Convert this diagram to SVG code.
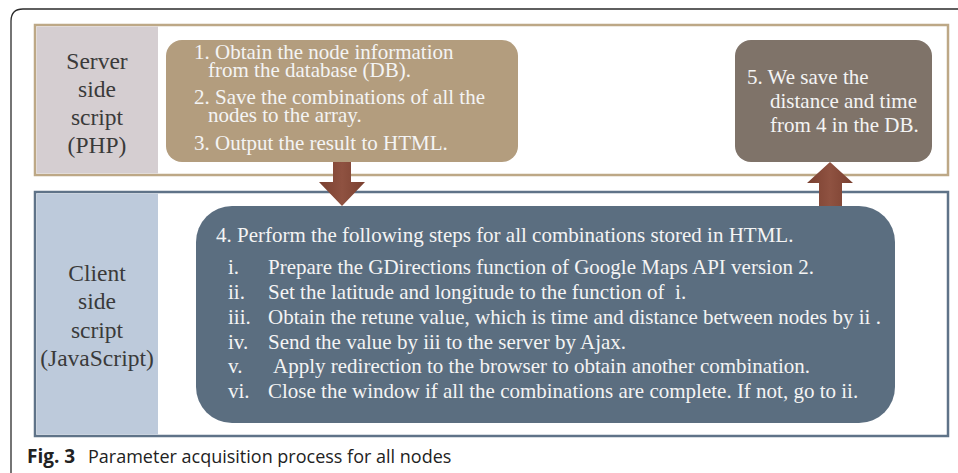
<svg xmlns="http://www.w3.org/2000/svg" width="958" height="473" viewBox="0 0 958 473">
<defs>
<style>
.lbl{font-family:"Liberation Serif","Times New Roman",serif;font-size:23.5px;fill:#3a3a3a;text-anchor:middle}
.bt{font-family:"Liberation Serif","Times New Roman",serif;font-size:21px;fill:#f4f4f4}
.cap{font-family:"Open Sans","Noto Sans",sans-serif;font-size:18px;fill:#222}
</style>
<linearGradient id="arr" x1="0" y1="0" x2="1" y2="0">
<stop offset="0" stop-color="#7a4030"/>
<stop offset="0.5" stop-color="#8f5241"/>
<stop offset="1" stop-color="#7a4030"/>
</linearGradient>
</defs>
<rect width="958" height="473" fill="#fff"/>
<path d="M11 473 V21 Q11 9 23 9 H958" fill="none" stroke="#2b2b2b" stroke-width="1.3"/>

<g id="server-frame">
<rect x="35" y="25" width="913" height="150" fill="#fff" stroke="#bda886" stroke-width="2.5"/>
<rect x="36.5" y="26.5" width="121.5" height="147" fill="#d5ced1"/>
<text class="lbl" x="97" y="69">Server</text>
<text class="lbl" x="97" y="97">side</text>
<text class="lbl" x="97" y="125">script</text>
<text class="lbl" x="97" y="153">(PHP)</text>
</g>

<g id="client-frame">
<rect x="35" y="192" width="913" height="244" fill="#fff" stroke="#5f7388" stroke-width="2.5"/>
<rect x="36.5" y="193.5" width="121.5" height="241" fill="#bdcadb"/>
<text class="lbl" x="97" y="281">Client</text>
<text class="lbl" x="97" y="309">side</text>
<text class="lbl" x="97" y="338">script</text>
<text class="lbl" x="97" y="366">(JavaScript)</text>
</g>

<g id="connectors">
<polygon points="333,162 351,162 351,182 365,182 342,206 319,182 333,182" fill="url(#arr)"/>
<polygon points="819,212 842,212 842,183 853,183 830,162 807,183 819,183" fill="url(#arr)"/>
</g>

<g id="node-steps-1-3">
<rect x="166" y="40" width="352" height="122" rx="16" fill="#b39d7e"/>
<text class="bt" x="194" y="59">1. Obtain the node information</text>
<text class="bt" x="208" y="77">from the database (DB).</text>
<text class="bt" x="194" y="104">2. Save the combinations of all the</text>
<text class="bt" x="208" y="122">nodes to the array.</text>
<text class="bt" x="194" y="150">3. Output the result to HTML.</text>
</g>

<g id="node-step-5">
<rect x="735" y="40" width="197" height="122" rx="16" fill="#7f7369"/>
<text class="bt" x="747" y="84">5. We save the</text>
<text class="bt" x="770" y="108">distance and time</text>
<text class="bt" x="770" y="132">from 4 in the DB.</text>
</g>

<g id="node-step-4">
<rect x="196" y="206" width="699" height="217" rx="36" fill="#5b6e80"/>
<text class="bt" x="216" y="242">4. Perform the following steps for all combinations stored in HTML.</text>
<text class="bt" x="228" y="274">i.</text>
<text class="bt" x="268" y="274">Prepare the GDirections function of Google Maps API version 2.</text>
<text class="bt" x="228" y="299">ii.</text>
<text class="bt" x="268" y="299" xml:space="preserve">Set the latitude and longitude to the function of  i.</text>
<text class="bt" x="228" y="324">iii.</text>
<text class="bt" x="268" y="324">Obtain the retune value, which is time and distance between nodes by ii .</text>
<text class="bt" x="228" y="349">iv.</text>
<text class="bt" x="268" y="349">Send the value by iii to the server by Ajax.</text>
<text class="bt" x="228" y="373">v.</text>
<text class="bt" x="273" y="373">Apply redirection to the browser to obtain another combination.</text>
<text class="bt" x="228" y="398">vi.</text>
<text class="bt" x="268" y="398">Close the window if all the combinations are complete. If not, go to ii.</text>
</g>

<text class="cap" x="27" y="463"><tspan font-weight="bold" font-size="19px">Fig. 3</tspan><tspan x="88">Parameter acquisition process for all nodes</tspan></text>
</svg>
